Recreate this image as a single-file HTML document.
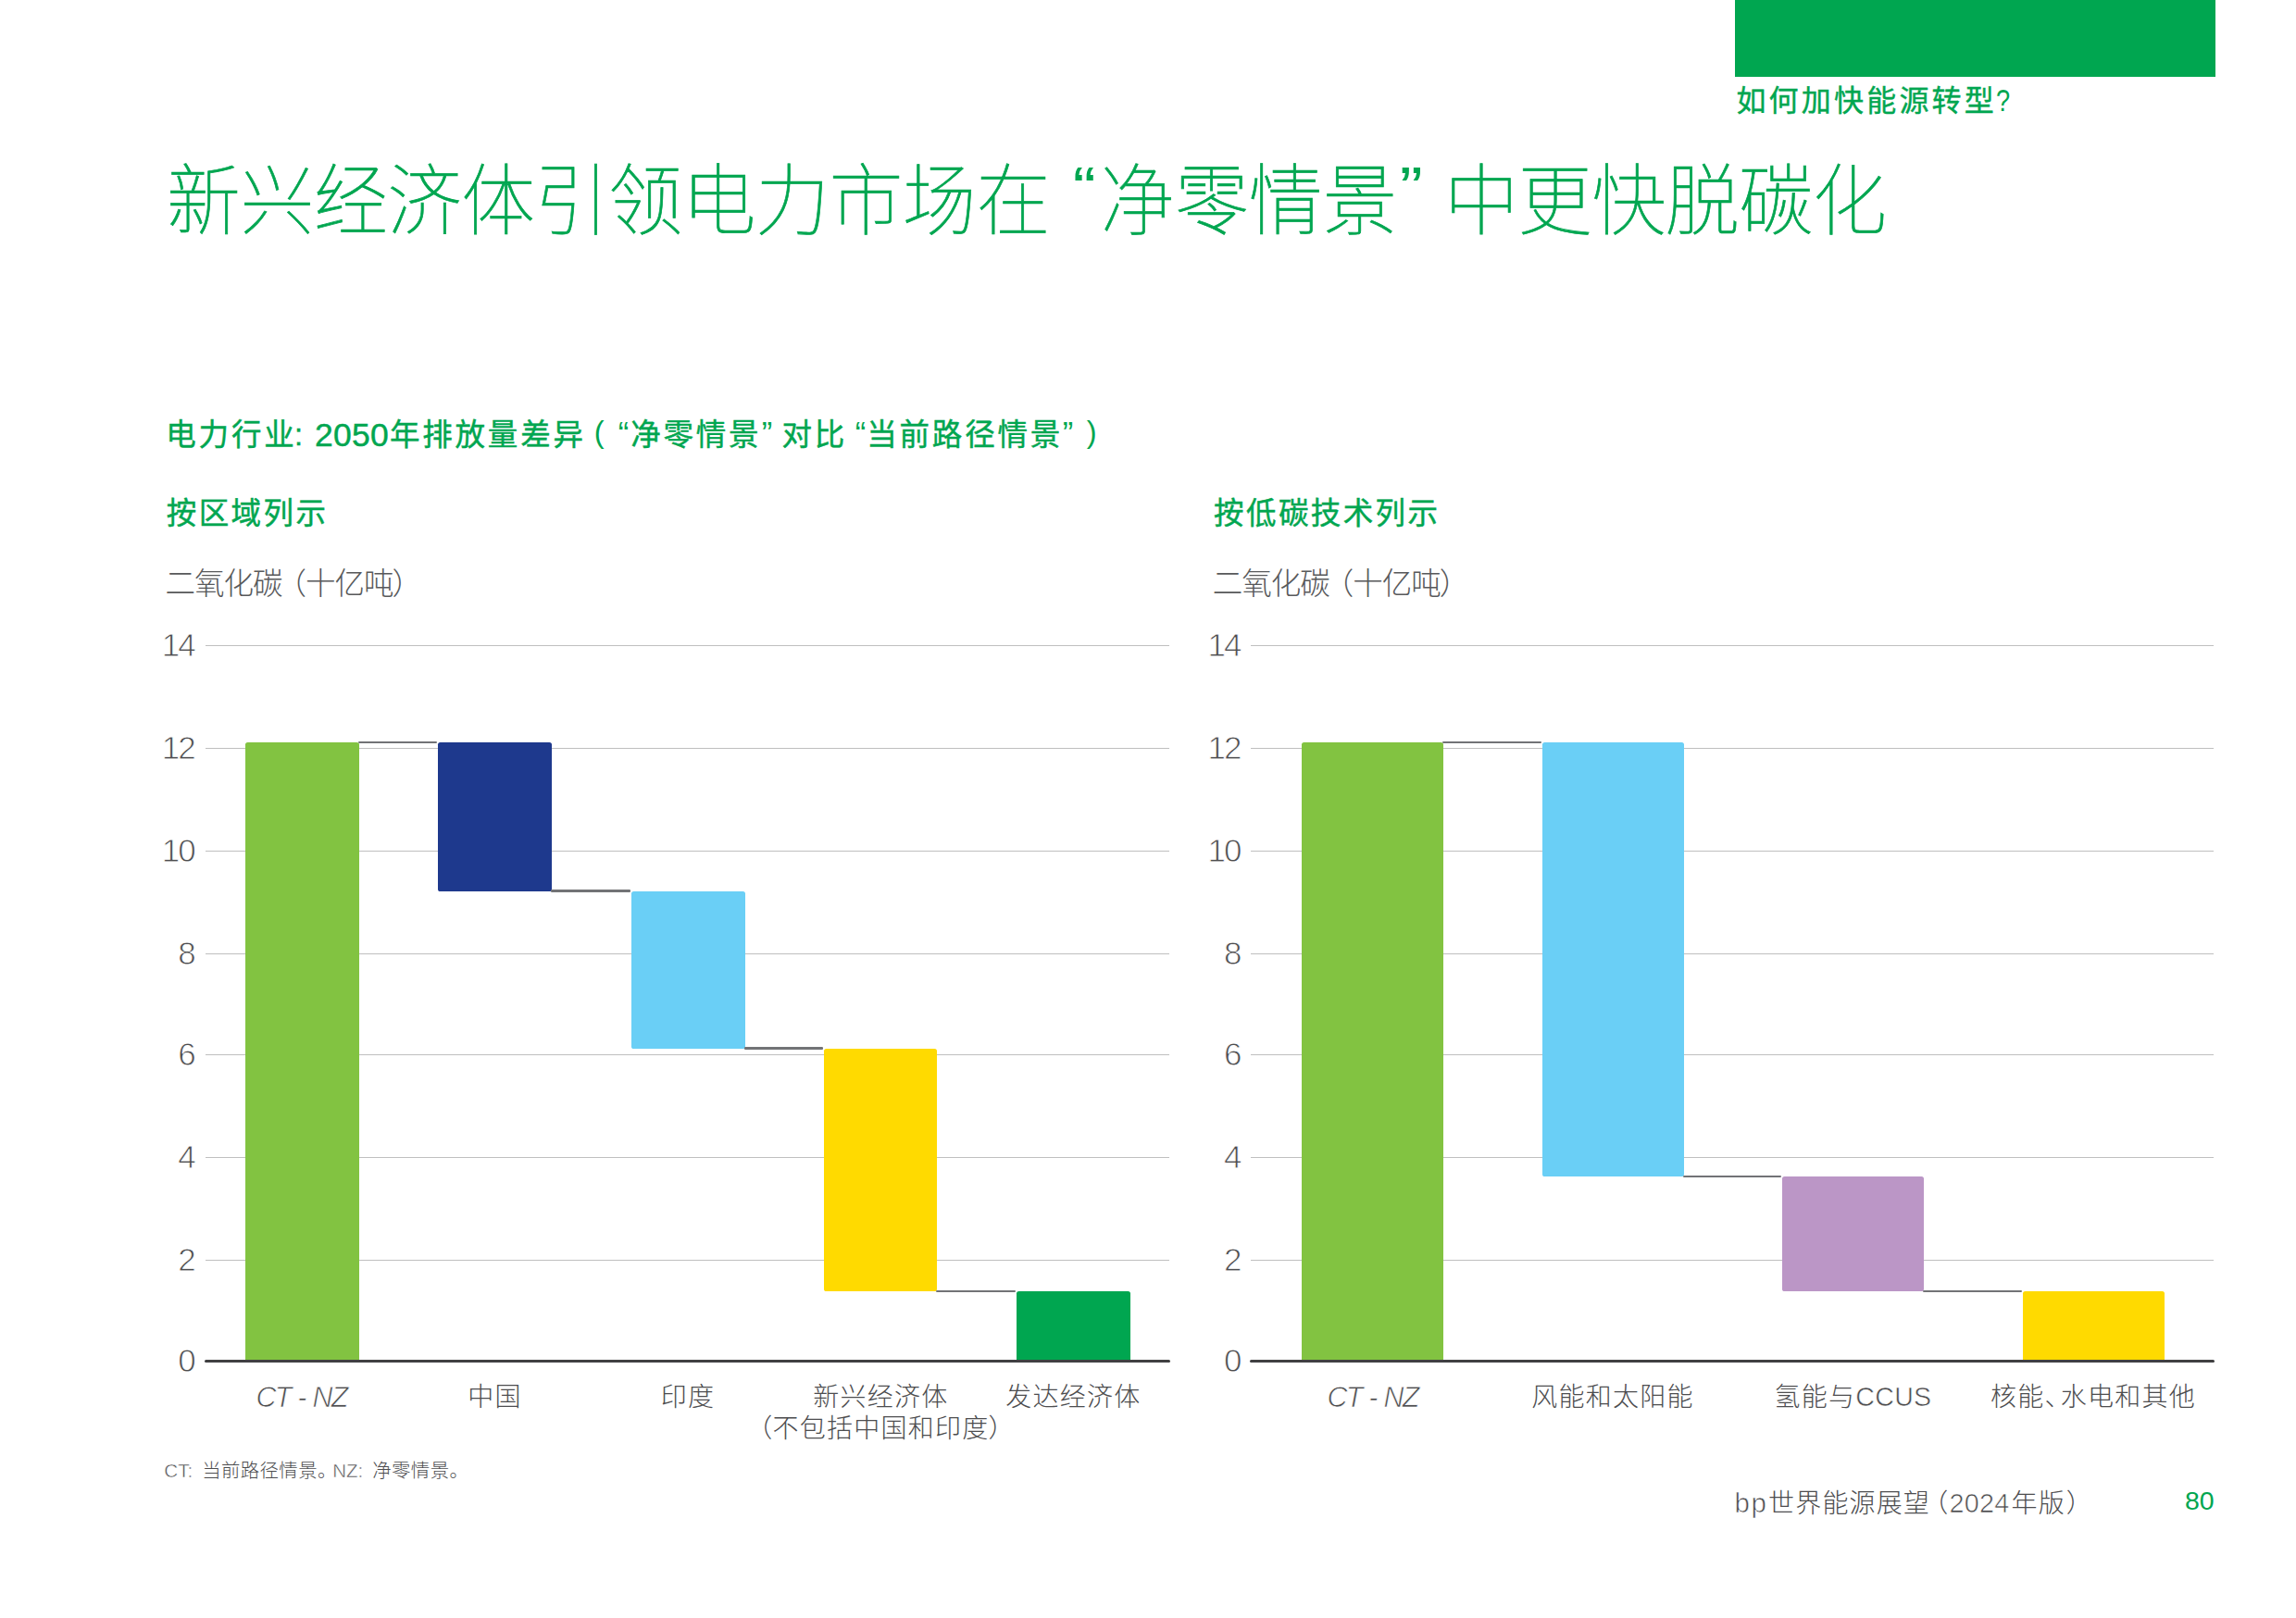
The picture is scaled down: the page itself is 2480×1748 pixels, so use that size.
<!DOCTYPE html>
<html lang="zh-CN">
<head>
<meta charset="utf-8">
<title>新兴经济体引领电力市场在“净零情景”中更快脱碳化</title>
<style>
html,body{margin:0;padding:0;background:#fff;}
body{width:2480px;height:1748px;position:relative;overflow:hidden;
 font-family:"Liberation Sans","Noto Sans CJK SC",sans-serif;color:#4d4d4f;}
.t{position:absolute;white-space:nowrap;line-height:1;}
.g{color:#00a650;}
#tab{position:absolute;left:1874px;top:0;width:518.5px;height:83px;background:#00a650;}
.sect{font-size:32px;letter-spacing:3.2px;font-weight:400;-webkit-text-stroke:0.4px #00a650;}
.qm{display:inline-block;font-size:34px;letter-spacing:0;transform:scaleX(0.8);transform-origin:0 50%;margin-left:-1px;margin-right:-5px;line-height:32px;-webkit-text-stroke:0;}
.title{font-size:80px;font-weight:100;line-height:92px;-webkit-text-stroke:0.7px #00a650;transform:scaleY(1.05);transform-origin:0 0;}
.title .q{display:inline-block;width:26.6px;font-size:60px;line-height:60px;position:relative;top:-22px;-webkit-text-stroke:0;text-align:center;font-weight:400;transform:scaleX(1.25);}
.title .ta{letter-spacing:-0.5px;margin-right:6px;}
.title .tc{letter-spacing:-0.45px;margin-left:2.5px;}
.title .q1{left:-4px;}
.title .q2{left:2px;}
.sub{font-size:32.5px;font-weight:400;-webkit-text-stroke:0.45px #00a650;letter-spacing:2.8px;}
.sub.n{font-size:35.5px;letter-spacing:0.3px;}
.sub.p{font-size:34.5px;font-weight:400;letter-spacing:0;-webkit-text-stroke:0;}
.sub.pp{font-size:32.5px;}
.h2{font-size:32.5px;font-weight:400;-webkit-text-stroke:0.45px #00a650;letter-spacing:2.4px;}
.unit{font-size:32.5px;font-weight:300;letter-spacing:-1px;color:#58595b;}
.fl{margin-left:-6px;}
.fr{margin-left:-1px;}
.grid{position:absolute;height:1px;background:#bfbfbf;}
.axis{position:absolute;height:3px;border-radius:1.5px;background:#404042;}
.yl{width:80px;text-align:right;font-family:"Liberation Sans",sans-serif;font-size:35px;font-weight:400;letter-spacing:-2px;color:#4d4d4f;-webkit-text-stroke:0.85px #fff;}
.bar{position:absolute;border-radius:2.6px;}
.con{position:absolute;height:2.2px;border-radius:1.1px;background:#727376;}
.xl{width:400px;font-family:"Liberation Sans","Noto Sans CJK SC",sans-serif;font-size:28px;line-height:34px;font-weight:300;letter-spacing:1.25px;color:#4d4d4f;text-align:center;}
.xi{width:400px;text-align:center;font-family:"Liberation Sans",sans-serif;font-weight:400;font-size:30.5px;font-style:italic;letter-spacing:-1.9px;word-spacing:1.4px;color:#4d4d4f;-webkit-text-stroke:0.75px #fff;}
.note{font-family:"Liberation Sans","Noto Sans CJK SC",sans-serif;font-size:20.4px;font-weight:300;letter-spacing:0.4px;color:#4d4d4f;}
.cc{font-family:"Liberation Sans",sans-serif;font-weight:400;font-size:28.6px;letter-spacing:0.3px;line-height:0;color:#4d4d4f;-webkit-text-stroke:0.6px #fff;}
.dn{margin-right:-12px;}
.pl{margin-right:-1px;}
.pr{margin-left:-1px;}
.la{font-family:"Liberation Sans",sans-serif;font-weight:400;line-height:0;font-size:20.6px;letter-spacing:0;margin-right:3.9px;-webkit-text-stroke:0.5px #fff;}
.foot{font-family:"Liberation Sans","Noto Sans CJK SC",sans-serif;font-size:28px;font-weight:300;letter-spacing:1.15px;color:#4d4d4f;}
.bp{font-family:"Liberation Sans",sans-serif;font-weight:400;line-height:0;font-size:29.5px;letter-spacing:1.7px;margin-right:0.4px;-webkit-text-stroke:0.65px #fff;}
.fl2{margin-left:-8.7px;}
.fr2{margin-left:1px;}
.yr{font-family:"Liberation Sans",sans-serif;font-weight:400;line-height:0;font-size:28.8px;letter-spacing:0.2px;margin-left:0;margin-right:2.2px;-webkit-text-stroke:0.65px #fff;}
.pg{font-size:28.5px;}
</style>
</head>
<body>
<div id="tab"></div>
<div class="grid" style="left:222px;top:696.5px;width:1040.5px"></div>
<div class="grid" style="left:222px;top:808.0px;width:1040.5px"></div>
<div class="grid" style="left:222px;top:919.0px;width:1040.5px"></div>
<div class="grid" style="left:222px;top:1030.0px;width:1040.5px"></div>
<div class="grid" style="left:222px;top:1139.0px;width:1040.5px"></div>
<div class="grid" style="left:222px;top:1250.0px;width:1040.5px"></div>
<div class="grid" style="left:222px;top:1361.0px;width:1040.5px"></div>
<div class="bar" style="left:265.2px;top:802px;width:122.8px;height:668.5px;background:#82c341"></div>
<div class="bar" style="left:472.5px;top:802px;width:123.0px;height:160.5px;background:#1e398d"></div>
<div class="bar" style="left:681.5px;top:962.5px;width:123.0px;height:170.0px;background:#6acff6"></div>
<div class="bar" style="left:889.5px;top:1132.5px;width:122.5px;height:262.5px;background:#ffda00"></div>
<div class="bar" style="left:1098px;top:1395px;width:122.5px;height:75.5px;background:#00a650"></div>
<div class="con" style="left:387.2px;top:801.1px;width:84.5px"></div>
<div class="con" style="left:594.7px;top:961.4px;width:86.0px"></div>
<div class="con" style="left:803.7px;top:1131.4px;width:85.0px"></div>
<div class="con" style="left:1011.2px;top:1393.9px;width:86px"></div>
<div class="axis" style="left:220.5px;top:1469px;width:1043.7px"></div>
<div class="grid" style="left:1351px;top:696.5px;width:1039.5px"></div>
<div class="grid" style="left:1351px;top:808.0px;width:1039.5px"></div>
<div class="grid" style="left:1351px;top:919.0px;width:1039.5px"></div>
<div class="grid" style="left:1351px;top:1030.0px;width:1039.5px"></div>
<div class="grid" style="left:1351px;top:1139.0px;width:1039.5px"></div>
<div class="grid" style="left:1351px;top:1250.0px;width:1039.5px"></div>
<div class="grid" style="left:1351px;top:1361.0px;width:1039.5px"></div>
<div class="bar" style="left:1406px;top:802px;width:153px;height:668.5px;background:#82c341"></div>
<div class="bar" style="left:1665.5px;top:802px;width:153.0px;height:469.4px;background:#6acff6"></div>
<div class="bar" style="left:1925px;top:1271.4px;width:153px;height:123.6px;background:#bb96c6"></div>
<div class="bar" style="left:2184.5px;top:1395px;width:153.0px;height:75.5px;background:#ffda00"></div>
<div class="con" style="left:1558.2px;top:801.1px;width:106.5px"></div>
<div class="con" style="left:1817.7px;top:1270.3px;width:106.5px"></div>
<div class="con" style="left:2077.2px;top:1393.9px;width:106.5px"></div>
<div class="axis" style="left:1349.5px;top:1469px;width:1042.7px"></div>
<div class="t sect g" id="sect" style="left:1875.40px;top:92.00px">如何加快能源转型<span class="qm">?</span></div>
<div class="t title g" id="title" style="left:180.00px;top:170.00px"><span class="ta">新兴经济体引领电力市场在</span> <span class="q q1">“</span>净零情景<span class="q q2">”</span> <span class="tc">中更快脱碳化</span></div>
<div class="t sub g" id="s1" style="left:179.30px;top:454.20px">电力行业<span style="margin-left:-2.6px">:</span></div>
<div class="t sub n g" id="s2" style="left:339.90px;top:452.70px">2050</div>
<div class="t sub g" id="s3" style="left:420.98px;top:454.20px">年排放量差异</div>
<div class="t sub p pp g" id="s4" style="left:641.75px;top:450.50px">(</div>
<div class="t sub p g" id="s5" style="left:667.72px;top:451.00px">“</div>
<div class="t sub g" id="s6" style="left:681.22px;top:454.20px">净零情景</div>
<div class="t sub p g" id="s7" style="left:822.72px;top:451.00px">”</div>
<div class="t sub g" id="s8" style="left:844.50px;top:454.20px">对比</div>
<div class="t sub p g" id="s9" style="left:923.75px;top:451.00px">“</div>
<div class="t sub g" id="s10" style="left:936.25px;top:454.20px">当前路径情景</div>
<div class="t sub p g" id="s11" style="left:1147.72px;top:451.00px">”</div>
<div class="t sub p pp g" id="s12" style="left:1173.72px;top:450.50px">)</div>
<div class="t h2 g" id="h2L" style="left:179.80px;top:539.10px">按区域列示</div>
<div class="t h2 g" id="h2R" style="left:1311.10px;top:539.10px">按低碳技术列示</div>
<div class="t unit" id="unitL" style="left:178.50px;top:615.00px">二氧化碳<span class="fl">（</span>十亿吨<span class="fr">）</span></div>
<div class="t unit" id="unitR" style="left:1309.80px;top:615.00px">二氧化碳<span class="fl">（</span>十亿吨<span class="fr">）</span></div>
<div class="t yl" id="yL14" style="left:129.70px;top:678.50px">14</div>
<div class="t yl" id="yL12" style="left:129.70px;top:790.00px">12</div>
<div class="t yl" id="yL10" style="left:129.70px;top:901.00px">10</div>
<div class="t yl" id="yL8" style="left:129.70px;top:1012.00px">8</div>
<div class="t yl" id="yL6" style="left:129.70px;top:1121.00px">6</div>
<div class="t yl" id="yL4" style="left:129.70px;top:1232.00px">4</div>
<div class="t yl" id="yL2" style="left:129.70px;top:1343.00px">2</div>
<div class="t yl" id="yL0" style="left:129.70px;top:1452.25px">0</div>
<div class="t xi" id="xL0" style="left:125.50px;top:1493.75px">CT - NZ</div>
<div class="t xl" id="xL1" style="left:334.50px;top:1492.50px">中国</div>
<div class="t xl" id="xL2" style="left:543.00px;top:1492.50px">印度</div>
<div class="t xl" id="xL3" style="left:751.50px;top:1492.50px">新兴经济体<br><span class="pl">（</span>不包括中国和印度<span class="pr">）</span></div>
<div class="t xl" id="xL4" style="left:959.40px;top:1492.50px">发达经济体</div>
<div class="t yl" id="yR14" style="left:1259.50px;top:678.50px">14</div>
<div class="t yl" id="yR12" style="left:1259.50px;top:790.00px">12</div>
<div class="t yl" id="yR10" style="left:1259.50px;top:901.00px">10</div>
<div class="t yl" id="yR8" style="left:1259.50px;top:1012.00px">8</div>
<div class="t yl" id="yR6" style="left:1259.50px;top:1121.00px">6</div>
<div class="t yl" id="yR4" style="left:1259.50px;top:1232.00px">4</div>
<div class="t yl" id="yR2" style="left:1259.50px;top:1343.00px">2</div>
<div class="t yl" id="yR0" style="left:1259.50px;top:1452.25px">0</div>
<div class="t xi" id="xR0" style="left:1282.50px;top:1493.75px">CT - NZ</div>
<div class="t xl" id="xR1" style="left:1542.00px;top:1492.50px">风能和太阳能</div>
<div class="t xl" id="xR2" style="left:1801.50px;top:1492.50px">氢能与<span class="cc">CCUS</span></div>
<div class="t xl" id="xR3" style="left:2061.00px;top:1492.50px">核能<span class="dn">、</span>水电和其他</div>
<div class="t note" id="note" style="left:177.35px;top:1579.20px"><span class="la">CT:</span> 当前路径情景。<span class="la" style="margin-left:-4.6px">NZ:</span> 净零情景。</div>
<div class="t foot" id="foot" style="left:1873.50px;top:1611.25px"><span class="bp">bp</span>世界能源展望<span class="fl2">（</span><span class="yr">2024</span>年版<span class="fr2">）</span></div>
<div class="t pg g" id="pg" style="left:2360.00px;top:1607.25px">80</div>
</body>
</html>
